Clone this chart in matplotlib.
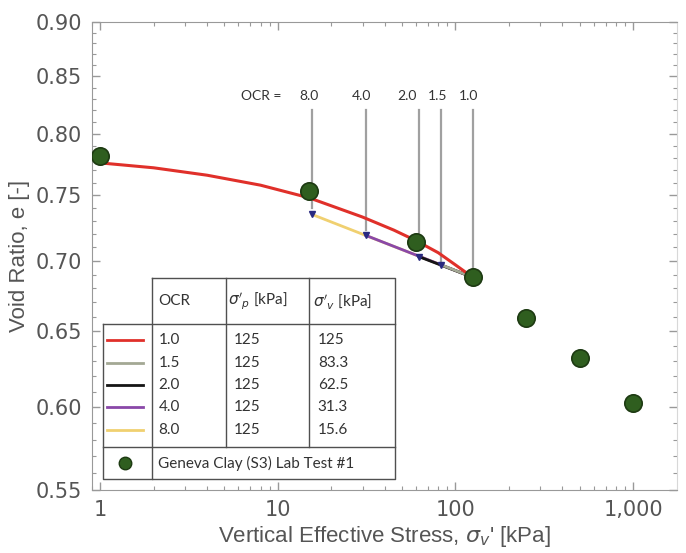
import matplotlib
matplotlib.use("Agg")
import matplotlib.pyplot as plt
from matplotlib.ticker import FixedLocator, FixedFormatter, NullFormatter, LogLocator
from matplotlib.lines import Line2D

# lab test points (Geneva Clay S3, test #1)
stress_lab = [1, 15, 60, 125, 250, 500, 1000]
e_lab = [0.782, 0.753, 0.714, 0.688, 0.659, 0.632, 0.603]

# OCR = 1.0 curve
ncl_stress = [1, 2, 4, 8, 15, 30, 45, 60, 80, 100, 125]
ncl_e = [0.776, 0.772, 0.766, 0.758, 0.748, 0.733, 0.723, 0.715,
         0.706, 0.697, 0.688]

# recompression lines, one per OCR
ocr_labels = ["1.0", "1.5", "2.0", "4.0", "8.0"]
sigma_p = [125, 125, 125, 125, 125]
sigma_v = [125, 83.3, 62.5, 31.3, 15.6]
sigma_v_txt = ["125", "83.3", "62.5", "31.3", "15.6"]
e_start = [0.688, 0.697, 0.703, 0.719, 0.735]
e_end = 0.688
guide_bottom = [0.692, 0.699, 0.714, 0.723, 0.740]
guide_top = 0.82
label_shift = [-3, -3, -9, -3, -2]  # points, so the labels do not collide

line_colors = ["#e0302a", "#a3a894", "#151515", "#8a48a8", "#f0d070"]

y_ticks = [0.55, 0.60, 0.65, 0.70, 0.75, 0.80, 0.85, 0.90]
x_ticks = [1, 10, 100, 1000]
x_tick_labels = ["1", "10", "100", "1,000"]

GREY = "#555555"
TABLE_FONT = ["Lato", "DejaVu Sans"]

fig = plt.figure(figsize=(6.86, 5.53), dpi=100)
ax = fig.add_axes([0.1341, 0.1139, 0.8528, 0.8463])
ax.set_xscale("log")
ax.set_yscale("log")
ax.set_xlim(0.9, 1766)
ax.set_ylim(0.55, 0.90)

# guide lines from the OCR labels
for sv, yb in zip(sigma_v, guide_bottom):
    ax.plot([sv, sv], [yb, guide_top], color="#a0a0a0", lw=1.6, zorder=1)

# recompression lines, OCR 8 first so lower OCR sits on top
for i in range(len(ocr_labels) - 1, 0, -1):
    ax.plot([sigma_v[i], sigma_p[i]], [e_start[i], e_end],
            color=line_colors[i], lw=2.0, zorder=2)
    ax.plot(sigma_v[i], e_start[i], marker="v", ms=5, color="#2a2a80",
            ls="none", zorder=3)

ax.plot(ncl_stress, ncl_e, color=line_colors[0], lw=2.2, zorder=3,
        solid_joinstyle="round")

ax.plot(stress_lab, e_lab, "o", ms=12.5, color="#2f5e1f",
        mec="#1d3a12", mew=1.2, ls="none", zorder=4)

# OCR labels above the guide lines
ax.annotate("OCR =", (sigma_v[-1], guide_top), xytext=(-22, 6),
            textcoords="offset points", ha="right", va="bottom",
            fontsize=10, color="#333333", family=TABLE_FONT)
for sv, lab, dx in zip(sigma_v, ocr_labels, label_shift):
    ax.annotate(lab, (sv, guide_top), xytext=(dx, 6),
                textcoords="offset points", ha="center", va="bottom",
                fontsize=10, color="#333333", family=TABLE_FONT)

# axes styling
ax.yaxis.set_major_locator(FixedLocator(y_ticks))
ax.yaxis.set_major_formatter(FixedFormatter([f"{v:.2f}" for v in y_ticks]))
ax.yaxis.set_minor_locator(FixedLocator([0.55 + 0.01 * k for k in range(36)]))
ax.yaxis.set_minor_formatter(NullFormatter())
ax.xaxis.set_major_locator(FixedLocator(x_ticks))
ax.xaxis.set_major_formatter(FixedFormatter(x_tick_labels))
ax.xaxis.set_minor_locator(LogLocator(base=10, subs=range(2, 10)))
ax.xaxis.set_minor_formatter(NullFormatter())

ax.tick_params(which="both", direction="in", top=True, right=True,
               colors="#999999", labelcolor=GREY, labelsize=15)
ax.tick_params(which="major", length=6, width=1)
ax.tick_params(which="minor", length=3, width=0.8)
ax.tick_params(axis="y", pad=7)
ax.tick_params(axis="x", pad=7)
for side in ["left", "bottom", "top"]:
    ax.spines[side].set_color("#999999")
ax.spines["right"].set_color("#d8d8d8")

ax.set_xlabel(r"Vertical Effective Stress, $\sigma_v$' [kPa]",
              fontsize=16, color=GREY, family="Liberation Sans", labelpad=3)
ax.set_ylabel("Void Ratio, e [-]", fontsize=16, color=GREY,
              family="Liberation Sans", labelpad=4)

# legend table (axes fraction coordinates)
T = ax.transAxes
c0, c1, c2, c3, c4 = 0.0188, 0.1026, 0.2291, 0.3709, 0.5179
y_head, y_body, y_split, y_low = 0.453, 0.3547, 0.0919, 0.0235
frame = dict(color="#505050", lw=1.0, transform=T, zorder=6, clip_on=False)

ax.fill_between([c1, c4], y_body, y_head, color="white", transform=T, zorder=5)
ax.fill_between([c0, c4], y_low, y_body, color="white", transform=T, zorder=5)
ax.plot([c1, c4, c4, c1, c1], [y_head, y_head, y_low, y_low, y_head], **frame)
ax.plot([c0, c0, c1], [y_body, y_low, y_low], **frame)
ax.plot([c0, c4], [y_body, y_body], **frame)
ax.plot([c0, c4], [y_split, y_split], **frame)
ax.plot([c2, c2], [y_split, y_head], **frame)
ax.plot([c3, c3], [y_split, y_head], **frame)

txt = dict(transform=T, fontsize=11, color="#333333", family=TABLE_FONT,
           va="center", zorder=7)
y_h = 0.5 * (y_head + y_body)
ax.text(c1 + 0.011, y_h, "OCR", **txt)
ax.text(c2 + 0.004, y_h, r"$\sigma'_p$ [kPa]", **txt)
ax.text(c3 + 0.007, y_h, r"$\sigma'_v$ [kPa]", **txt)

row_y = [0.3205, 0.2714, 0.2244, 0.1774, 0.1282]
for i, ry in enumerate(row_y):
    ax.add_line(Line2D([0.0256, 0.0872], [ry, ry], color=line_colors[i],
                       lw=2.0, transform=T, zorder=7))
    ax.text(c1 + 0.011, ry, ocr_labels[i], **txt)
    ax.text(c2 + 0.014, ry, str(sigma_p[i]), **txt)
    ax.text(c3 + 0.015, ry, sigma_v_txt[i], **txt)

ax.plot([0.0564], [0.0577], "o", ms=9, color="#2f5e1f", mec="#1d3a12",
        transform=T, zorder=7, clip_on=False)
ax.text(c1 + 0.011, 0.0577, "Geneva Clay (S3) Lab Test #1", **txt)

fig.savefig("out.png", dpi=100)
